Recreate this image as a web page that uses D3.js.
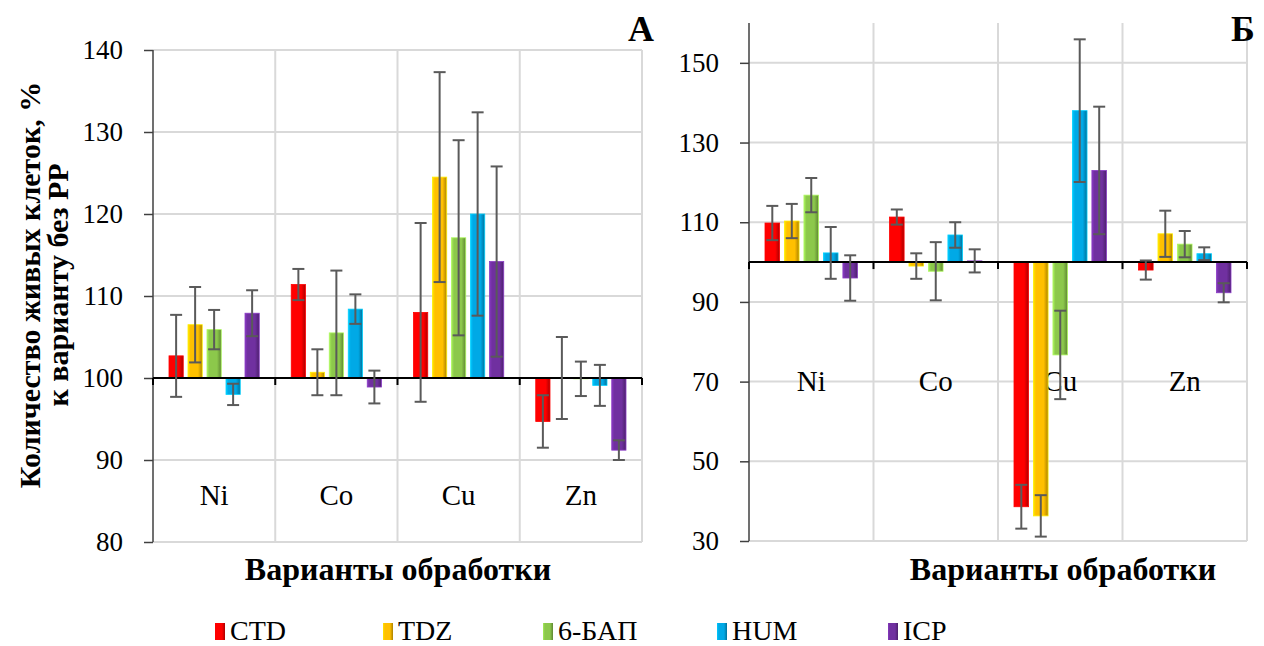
<!DOCTYPE html>
<html>
<head>
<meta charset="utf-8">
<script src="https://cdn.jsdelivr.net/npm/d3@7"></script>
</head>
<body style="margin:0;background:#fff">
<div id="chart"></div>
<script>
const categories = ['Ni', 'Co', 'Cu', 'Zn'];
const seriesNames = ['CTD', 'TDZ', '6-БАП', 'HUM', 'ICP'];
const seriesColors = ['#FF0000', '#FFC000', '#8CC84B', '#00A9E6', '#7030A0'];

// панель А: значения по сериям (Ni, Co, Cu, Zn)
const valuesA = [
  [102.7, 111.4, 108.0, 94.7],
  [106.5, 100.7, 124.5, 100.0],
  [105.9, 105.5, 117.1, 99.9],
  [98.0, 108.4, 120.0, 99.1],
  [107.9, 98.9, 114.2, 91.2]
];
const errorsA = [
  [5.0, 1.9, 10.9, 3.2],
  [4.6, 2.8, 12.8, 5.0],
  [2.4, 7.6, 11.9, 2.1],
  [1.3, 1.8, 12.4, 2.5],
  [2.8, 2.0, 11.6, 1.2]
];
const ticksA = [80, 90, 100, 110, 120, 130, 140];

// панель Б
const valuesB = [
  [109.8, 111.3, 38.6, 98.0],
  [110.3, 99.0, 36.3, 107.1],
  [116.8, 97.7, 76.7, 104.5],
  [102.3, 106.8, 138.0, 102.1],
  [96.0, 100.3, 123.0, 92.3]
];
const errorsB = [
  [4.3, 1.9, 5.5, 2.4],
  [4.3, 3.2, 5.2, 5.8],
  [4.3, 7.3, 11.1, 3.3],
  [6.5, 3.2, 17.9, 1.6],
  [5.7, 2.9, 16.0, 2.4]
];
const ticksB = [30, 50, 70, 90, 110, 130, 150];

const baseValue = 100;
const width = 1264, height = 646;
const serif = '"Liberation Serif"';

const svg = d3.select('#chart').append('svg')
  .attr('width', width)
  .attr('height', height)
  .style('display', 'block')
  .style('font-family', serif);

const defs = svg.append('defs');
seriesColors.forEach((c, i) => {
  const g = defs.append('linearGradient')
    .attr('id', `grad${i}`)
    .attr('x1', 0).attr('x2', 1).attr('y1', 0).attr('y2', 0);
  const base = d3.color(c);
  g.append('stop').attr('offset', 0).attr('stop-color', base.brighter(0.5));
  g.append('stop').attr('offset', 0.18).attr('stop-color', c);
  g.append('stop').attr('offset', 0.7).attr('stop-color', c);
  g.append('stop').attr('offset', 1).attr('stop-color', base.darker(1.1));
});

const drawPanel = (cfg) => {
  const { left, top, right, bottom, domain, ticks, values, errors, labelY, letter, letterX, titleX } = cfg;

  const y = d3.scaleLinear().domain(domain).range([bottom, top]);
  const x0 = d3.scaleBand().domain(categories).range([left, right]).padding(0);
  const x1 = d3.scaleBand().domain(seriesNames)
    .range([16, x0.bandwidth() - 16]).paddingInner(0.25);

  const g = svg.append('g');

  // сетка
  g.append('g').selectAll('line')
    .data(ticks)
    .join('line')
    .attr('x1', left).attr('x2', right)
    .attr('y1', d => y(d)).attr('y2', d => y(d))
    .attr('stroke', '#D9D9D9').attr('stroke-width', 2);

  const bounds = categories.map(c => x0(c)).concat([right]);
  g.append('g').selectAll('line')
    .data(bounds.slice(1))
    .join('line')
    .attr('x1', d => d).attr('x2', d => d)
    .attr('y1', top).attr('y2', bottom)
    .attr('stroke', '#D9D9D9').attr('stroke-width', 2);

  // подписи категорий внутри поля
  g.append('g').selectAll('text')
    .data(categories)
    .join('text')
    .attr('x', d => x0(d) + x0.bandwidth() / 2)
    .attr('y', labelY)
    .attr('text-anchor', 'middle')
    .style('font-family', serif)
    .style('font-size', '29px')
    .attr('fill', '#000')
    .text(d => d);

  // столбцы
  const flat = [];
  seriesNames.forEach((s, si) => {
    categories.forEach((c, ci) => {
      flat.push({ s, si, c, v: values[si][ci], e: errors[si][ci] });
    });
  });

  g.append('g').selectAll('rect')
    .data(flat)
    .join('rect')
    .attr('x', d => x0(d.c) + x1(d.s))
    .attr('width', x1.bandwidth())
    .attr('y', d => y(Math.max(d.v, baseValue)))
    .attr('height', d => Math.abs(y(d.v) - y(baseValue)))
    .attr('fill', d => `url(#grad${d.si})`)
    .attr('stroke', d => d3.color(seriesColors[d.si]).brighter(0.6))
    .attr('stroke-width', 0.8);

  // ось Y
  g.append('line')
    .attr('x1', left).attr('x2', left)
    .attr('y1', top).attr('y2', bottom)
    .attr('stroke', '#404040').attr('stroke-width', 1.5);

  const yAxis = d3.axisLeft(y).tickValues(ticks).tickSize(9).tickPadding(21);
  const ya = g.append('g').attr('transform', `translate(${left},0)`).call(yAxis);
  ya.attr('font-family', null).attr('font-size', null);
  ya.select('.domain').remove();
  ya.selectAll('line').attr('stroke', '#404040').attr('stroke-width', 1.5);
  ya.selectAll('text')
    .style('font-family', serif)
    .style('font-size', '27px')
    .attr('fill', '#000');

  // базовая линия 100
  g.append('line')
    .attr('x1', left).attr('x2', right)
    .attr('y1', y(baseValue)).attr('y2', y(baseValue))
    .attr('stroke', '#000').attr('stroke-width', 2);
  g.append('g').selectAll('line')
    .data(bounds)
    .join('line')
    .attr('x1', d => d).attr('x2', d => d)
    .attr('y1', y(baseValue)).attr('y2', y(baseValue) + 7)
    .attr('stroke', '#000').attr('stroke-width', 2);

  // планки погрешностей
  const eb = g.append('g').selectAll('g')
    .data(flat)
    .join('g')
    .attr('transform', d => `translate(${x0(d.c) + x1(d.s) + x1.bandwidth() / 2},0)`);
  eb.append('line')
    .attr('y1', d => y(d.v + d.e)).attr('y2', d => y(d.v - d.e))
    .attr('stroke', '#5A5A5A').attr('stroke-width', 2);
  eb.append('line')
    .attr('x1', -6).attr('x2', 6)
    .attr('y1', d => y(d.v + d.e)).attr('y2', d => y(d.v + d.e))
    .attr('stroke', '#5A5A5A').attr('stroke-width', 2);
  eb.append('line')
    .attr('x1', -6).attr('x2', 6)
    .attr('y1', d => y(d.v - d.e)).attr('y2', d => y(d.v - d.e))
    .attr('stroke', '#5A5A5A').attr('stroke-width', 2);

  // название оси X
  g.append('text')
    .attr('x', titleX)
    .attr('y', 580)
    .attr('text-anchor', 'middle')
    .style('font-family', serif)
    .style('font-size', '32px')
    .style('font-weight', 'bold')
    .text('Варианты обработки');

  // буква панели
  g.append('text')
    .attr('x', letterX)
    .attr('y', 41)
    .attr('text-anchor', 'middle')
    .style('font-family', serif)
    .style('font-size', '36px')
    .style('font-weight', 'bold')
    .text(letter);
};

drawPanel({
  left: 153, top: 50, right: 642, bottom: 542,
  domain: [80, 140], ticks: ticksA,
  values: valuesA, errors: errorsA,
  labelY: 505, letter: 'А', letterX: 641, titleX: 398
});

drawPanel({
  left: 749, top: 23, right: 1247, bottom: 541,
  domain: [30, 160], ticks: ticksB,
  values: valuesB, errors: errorsB,
  labelY: 391, letter: 'Б', letterX: 1243, titleX: 1063
});

// подпись оси Y
const yTitle = svg.append('text')
  .attr('transform', 'translate(40,285) rotate(-90)')
  .attr('text-anchor', 'middle')
  .style('font-family', serif)
  .style('font-size', '30px')
  .style('font-weight', 'bold');
yTitle.append('tspan').attr('x', 0).attr('dy', 0).style('font-family', serif).text('Количество живых клеток, %');
yTitle.append('tspan').attr('x', 0).attr('dy', 28).style('font-family', serif).text('к варианту без РР');

// легенда
const legendX = [215, 383, 543, 717, 888];
const legend = svg.append('g').selectAll('g')
  .data(seriesNames)
  .join('g')
  .attr('transform', (d, i) => `translate(${legendX[i]},623)`);
legend.append('rect')
  .attr('width', 10).attr('height', 17)
  .attr('fill', (d, i) => `url(#grad${i})`);
legend.append('text')
  .attr('x', 15).attr('y', 17)
  .style('font-family', serif)
  .style('font-size', '28px')
  .text(d => d);
</script>
</body>
</html>
